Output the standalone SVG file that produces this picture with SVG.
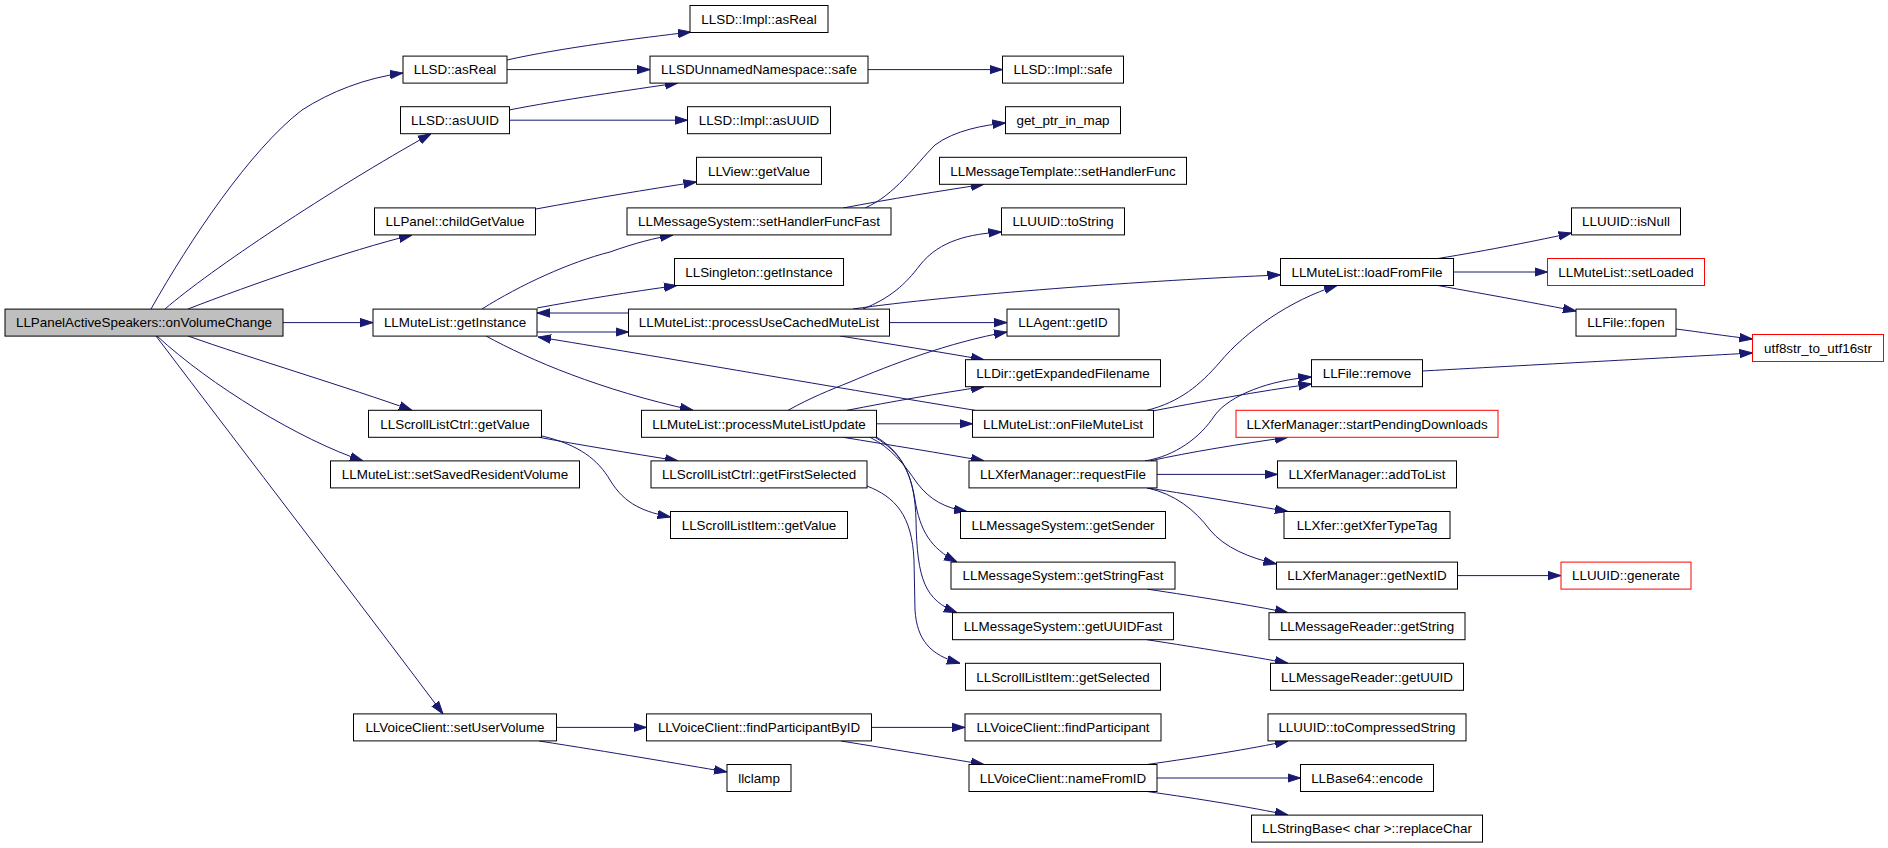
<svg xmlns="http://www.w3.org/2000/svg" width="1888" height="848" viewBox="0 0 1888 848">
<style>
.node rect{fill:#ffffff;stroke:#000000;stroke-width:1}
.node.main rect{fill:#bfbfbf}
.node.red rect{stroke:#ff0000}
.node text{font-family:"Liberation Sans",Arial,Helvetica,sans-serif;font-size:13.4px;fill:#000000;text-anchor:middle}
.edges path{fill:none;stroke:#191970;stroke-width:1;marker-end:url(#arr)}
</style>
<defs>
<marker id="arr" markerUnits="userSpaceOnUse" markerWidth="13" markerHeight="10" refX="13" refY="5" orient="auto">
<path d="M0,0.8 L13,5 L0,9.2 z" fill="#191970" stroke="#191970" stroke-width="1"/>
</marker>
</defs>
<rect x="0" y="0" width="1888" height="848" fill="#ffffff"/>
<g class="edges" id="edges">
<path d="M151,309 C190,240 250,150 302,110 C330,92 365,78 403,73"/>
<path d="M165,309 C210,270 330,190 431,133.7"/>
<path d="M188,309 C250,285 350,250 412,235"/>
<path d="M283,322.6 L373,322.6"/>
<path d="M188,336 C250,358 350,388 412,410.3"/>
<path d="M157,336 C210,385 300,440 363,460.9"/>
<path d="M156,336 C250,460 350,590 443,713.9"/>
<path d="M507,60 C560,48 640,38 691,32"/>
<path d="M507,69.6 L650,69.6"/>
<path d="M509,110 C560,100 630,90 678,83"/>
<path d="M509,120.2 L687.5,120.2"/>
<path d="M868,69.6 L1002.5,69.6"/>
<path d="M536,209 C590,199 650,189 696.5,182"/>
<path d="M865,208 C895,195 915,165 935,145 C955,130 985,125 1005.5,123"/>
<path d="M843,208 C890,199 940,191 984,184.3"/>
<path d="M482,309 C520,285 570,262 610,252 C635,243 655,238 673,235"/>
<path d="M537,308 C580,300 630,292 677,285.5"/>
<path d="M628.5,313 L537,313"/>
<path d="M537,332 L628.5,332"/>
<path d="M975,410.3 C850,390 650,355 538,337"/>
<path d="M486,336 C530,360 600,390 693,410.3"/>
<path d="M863,309 C890,298 905,285 920,265 C940,240 970,234 1001.5,232"/>
<path d="M853,309 C950,295 1150,280 1280.5,275"/>
<path d="M889.5,322.6 L1007,322.6"/>
<path d="M840,336 C890,344 940,352 984,359.7"/>
<path d="M788,410.3 C810,398 830,390 850,382 C890,365 950,342 1007,332"/>
<path d="M847,410.3 C890,402 940,393 984,386.7"/>
<path d="M876.5,423.8 L972.5,423.8"/>
<path d="M843,437.3 C890,445 940,453 984,460.9"/>
<path d="M870,437.3 C890,447 905,465 917,483 C930,500 945,508 967,511.5"/>
<path d="M875,437.3 C900,452 910,470 915,500 C920,530 930,548 957,562.1"/>
<path d="M877,437.3 C905,455 915,480 916,520 C917,580 925,600 957,612.7"/>
<path d="M867,486 C895,497 912,515 914,560 L915,610 C917,640 930,655 960,663.3"/>
<path d="M539,437.3 C580,445 630,453 678,460.9"/>
<path d="M542,436 C580,445 598,460 610,480 C625,505 645,512 670.5,517"/>
<path d="M556.5,727.4 L646.5,727.4"/>
<path d="M539,741 C610,752 680,764 727,772"/>
<path d="M871.5,727.4 L965,727.4"/>
<path d="M841,741 C890,749 940,757 984,764.5"/>
<path d="M1438,258.5 C1490,250 1540,240 1571.5,233"/>
<path d="M1453.5,272 L1547.5,272"/>
<path d="M1438,285.5 C1490,295 1540,304 1576,311"/>
<path d="M1676,329 C1700,332 1725,336 1752.5,339"/>
<path d="M1422.5,371 C1550,364 1680,357 1752.5,353"/>
<path d="M1147,410.3 C1180,402 1200,385 1220,362 C1245,332 1290,300 1337,285.5"/>
<path d="M1147,412 C1200,402 1260,391 1311.5,384"/>
<path d="M1145,460.9 C1175,456 1200,438 1215,415 C1230,395 1270,380 1311.5,377"/>
<path d="M1150,460.9 C1190,452 1240,444 1288,437.3"/>
<path d="M1157,474.4 L1277.5,474.4"/>
<path d="M1147,487.9 C1200,496 1250,505 1288,511.5"/>
<path d="M1147,487.9 C1175,494 1195,510 1210,530 C1225,548 1250,558 1276.5,564"/>
<path d="M1457.5,575.6 L1561,575.6"/>
<path d="M1147,589.1 C1200,597 1250,605 1288,612.7"/>
<path d="M1147,639.7 C1200,648 1250,656 1288,663.3"/>
<path d="M1147,764.5 C1200,757 1250,749 1288,740.9"/>
<path d="M1157,778 L1300.5,778"/>
<path d="M1147,791.5 C1200,799 1250,807 1288,815.1"/>
</g>
<g id="n_main" class="node main"><rect x="5" y="309.1" width="278" height="27"/><text x="144" y="327.3">LLPanelActiveSpeakers::onVolumeChange</text></g>
<g id="n_asReal" class="node"><rect x="403" y="56.1" width="104" height="27"/><text x="455" y="74.3">LLSD::asReal</text></g>
<g id="n_asUUID" class="node"><rect x="400.5" y="106.7" width="109" height="27"/><text x="455" y="124.9">LLSD::asUUID</text></g>
<g id="n_childGetValue" class="node"><rect x="374.5" y="207.9" width="161" height="27"/><text x="455" y="226.1">LLPanel::childGetValue</text></g>
<g id="n_getInstance" class="node"><rect x="373" y="309.1" width="164" height="27"/><text x="455" y="327.3">LLMuteList::getInstance</text></g>
<g id="n_slcGetValue" class="node"><rect x="368.5" y="410.3" width="173" height="27"/><text x="455" y="428.5">LLScrollListCtrl::getValue</text></g>
<g id="n_setSavedResidentVolume" class="node"><rect x="330.5" y="460.9" width="249" height="27"/><text x="455" y="479.1">LLMuteList::setSavedResidentVolume</text></g>
<g id="n_setUserVolume" class="node"><rect x="353.5" y="713.9" width="203" height="27"/><text x="455" y="732.1">LLVoiceClient::setUserVolume</text></g>
<g id="n_implAsReal" class="node"><rect x="690" y="5.5" width="138" height="27"/><text x="759" y="23.7">LLSD::Impl::asReal</text></g>
<g id="n_safe" class="node"><rect x="650" y="56.1" width="218" height="27"/><text x="759" y="74.3">LLSDUnnamedNamespace::safe</text></g>
<g id="n_implAsUUID" class="node"><rect x="687.5" y="106.7" width="143" height="27"/><text x="759" y="124.9">LLSD::Impl::asUUID</text></g>
<g id="n_viewGetValue" class="node"><rect x="696.5" y="157.3" width="125" height="27"/><text x="759" y="175.5">LLView::getValue</text></g>
<g id="n_setHandlerFuncFast" class="node"><rect x="627" y="207.9" width="264" height="27"/><text x="759" y="226.1">LLMessageSystem::setHandlerFuncFast</text></g>
<g id="n_singleton" class="node"><rect x="674.5" y="258.5" width="169" height="27"/><text x="759" y="276.7">LLSingleton::getInstance</text></g>
<g id="n_processUseCached" class="node"><rect x="628.5" y="309.1" width="261" height="27"/><text x="759" y="327.3">LLMuteList::processUseCachedMuteList</text></g>
<g id="n_processMuteListUpdate" class="node"><rect x="641.5" y="410.3" width="235" height="27"/><text x="759" y="428.5">LLMuteList::processMuteListUpdate</text></g>
<g id="n_getFirstSelected" class="node"><rect x="651" y="460.9" width="216" height="27"/><text x="759" y="479.1">LLScrollListCtrl::getFirstSelected</text></g>
<g id="n_sliGetValue" class="node"><rect x="670.5" y="511.5" width="177" height="27"/><text x="759" y="529.7">LLScrollListItem::getValue</text></g>
<g id="n_findParticipantByID" class="node"><rect x="646.5" y="713.9" width="225" height="27"/><text x="759" y="732.1">LLVoiceClient::findParticipantByID</text></g>
<g id="n_llclamp" class="node"><rect x="727" y="764.5" width="64" height="27"/><text x="759" y="782.7">llclamp</text></g>
<g id="n_implSafe" class="node"><rect x="1002.5" y="56.1" width="121" height="27"/><text x="1063" y="74.3">LLSD::Impl::safe</text></g>
<g id="n_getPtrInMap" class="node"><rect x="1005.5" y="106.7" width="115" height="27"/><text x="1063" y="124.9">get_ptr_in_map</text></g>
<g id="n_setHandlerFunc" class="node"><rect x="939.5" y="157.3" width="247" height="27"/><text x="1063" y="175.5">LLMessageTemplate::setHandlerFunc</text></g>
<g id="n_toString" class="node"><rect x="1001.5" y="207.9" width="123" height="27"/><text x="1063" y="226.1">LLUUID::toString</text></g>
<g id="n_getID" class="node"><rect x="1007" y="309.1" width="112" height="27"/><text x="1063" y="327.3">LLAgent::getID</text></g>
<g id="n_getExpandedFilename" class="node"><rect x="965.5" y="359.7" width="195" height="27"/><text x="1063" y="377.9">LLDir::getExpandedFilename</text></g>
<g id="n_onFileMuteList" class="node"><rect x="972.5" y="410.3" width="181" height="27"/><text x="1063" y="428.5">LLMuteList::onFileMuteList</text></g>
<g id="n_requestFile" class="node"><rect x="969" y="460.9" width="188" height="27"/><text x="1063" y="479.1">LLXferManager::requestFile</text></g>
<g id="n_getSender" class="node"><rect x="960.5" y="511.5" width="205" height="27"/><text x="1063" y="529.7">LLMessageSystem::getSender</text></g>
<g id="n_getStringFast" class="node"><rect x="951" y="562.1" width="224" height="27"/><text x="1063" y="580.3">LLMessageSystem::getStringFast</text></g>
<g id="n_getUUIDFast" class="node"><rect x="952.5" y="612.7" width="221" height="27"/><text x="1063" y="630.9">LLMessageSystem::getUUIDFast</text></g>
<g id="n_getSelected" class="node"><rect x="965.5" y="663.3" width="195" height="27"/><text x="1063" y="681.5">LLScrollListItem::getSelected</text></g>
<g id="n_findParticipant" class="node"><rect x="965" y="713.9" width="196" height="27"/><text x="1063" y="732.1">LLVoiceClient::findParticipant</text></g>
<g id="n_nameFromID" class="node"><rect x="969" y="764.5" width="188" height="27"/><text x="1063" y="782.7">LLVoiceClient::nameFromID</text></g>
<g id="n_loadFromFile" class="node"><rect x="1280.5" y="258.5" width="173" height="27"/><text x="1367" y="276.7">LLMuteList::loadFromFile</text></g>
<g id="n_remove" class="node"><rect x="1311.5" y="359.7" width="111" height="27"/><text x="1367" y="377.9">LLFile::remove</text></g>
<g id="n_startPendingDownloads" class="node red"><rect x="1236" y="410.3" width="262" height="27"/><text x="1367" y="428.5">LLXferManager::startPendingDownloads</text></g>
<g id="n_addToList" class="node"><rect x="1277.5" y="460.9" width="179" height="27"/><text x="1367" y="479.1">LLXferManager::addToList</text></g>
<g id="n_getXferTypeTag" class="node"><rect x="1284" y="511.5" width="166" height="27"/><text x="1367" y="529.7">LLXfer::getXferTypeTag</text></g>
<g id="n_getNextID" class="node"><rect x="1276.5" y="562.1" width="181" height="27"/><text x="1367" y="580.3">LLXferManager::getNextID</text></g>
<g id="n_getString" class="node"><rect x="1269" y="612.7" width="196" height="27"/><text x="1367" y="630.9">LLMessageReader::getString</text></g>
<g id="n_getUUID" class="node"><rect x="1270.5" y="663.3" width="193" height="27"/><text x="1367" y="681.5">LLMessageReader::getUUID</text></g>
<g id="n_toCompressedString" class="node"><rect x="1268" y="713.9" width="198" height="27"/><text x="1367" y="732.1">LLUUID::toCompressedString</text></g>
<g id="n_encode" class="node"><rect x="1300.5" y="764.5" width="133" height="27"/><text x="1367" y="782.7">LLBase64::encode</text></g>
<g id="n_replaceChar" class="node"><rect x="1251.5" y="815.1" width="231" height="27"/><text x="1367" y="833.3">LLStringBase&lt; char &gt;::replaceChar</text></g>
<g id="n_isNull" class="node"><rect x="1571.5" y="207.9" width="109" height="27"/><text x="1626" y="226.1">LLUUID::isNull</text></g>
<g id="n_setLoaded" class="node red"><rect x="1547.5" y="258.5" width="157" height="27"/><text x="1626" y="276.7">LLMuteList::setLoaded</text></g>
<g id="n_fopen" class="node"><rect x="1576" y="309.1" width="100" height="27"/><text x="1626" y="327.3">LLFile::fopen</text></g>
<g id="n_generate" class="node red"><rect x="1561" y="562.1" width="130" height="27"/><text x="1626" y="580.3">LLUUID::generate</text></g>
<g id="n_utf8str" class="node red"><rect x="1752.5" y="334.5" width="131" height="27"/><text x="1818" y="352.7">utf8str_to_utf16str</text></g>
</svg>
